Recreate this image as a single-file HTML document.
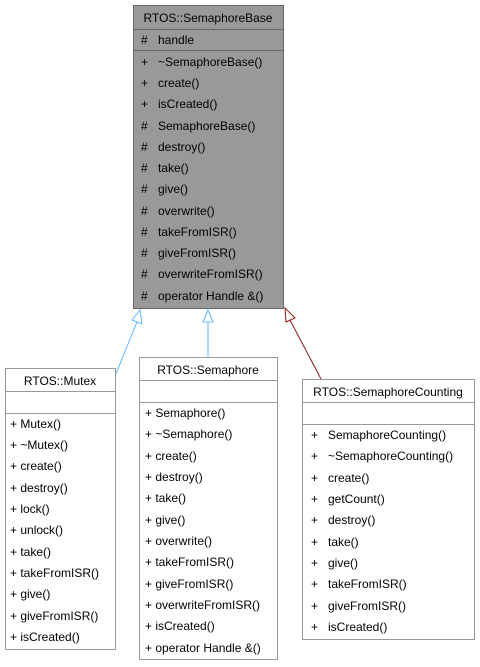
<!DOCTYPE html>
<html><head><meta charset="utf-8"><style>
html,body{margin:0;padding:0;background:#fff;width:480px;height:667px;overflow:hidden}
text{font-family:"Liberation Sans",sans-serif;font-size:12px;fill:#000}
</style></head><body>
<svg width="480" height="667" viewBox="0 0 480 667" xmlns="http://www.w3.org/2000/svg">
<line x1="115" y1="376" x2="137" y2="322" stroke="#63b8ff" stroke-width="1"/>
<polygon points="140,310 132,320 142,324" fill="#fff" stroke="#63b8ff"/>
<line x1="208" y1="357" x2="208" y2="322" stroke="#63b8ff"/>
<polygon points="208,310 203,322 213,322" fill="#fff" stroke="#63b8ff"/>
<line x1="321" y1="379" x2="290" y2="320" stroke="#8b1a1a"/>
<polygon points="285,308 286,322 295,318" fill="#fff" stroke="#8b1a1a"/>

<rect x="133.5" y="5.5" width="150" height="303" fill="#999" stroke="#666"/>
<line x1="133.5" y1="29.5" x2="283.5" y2="29.5" stroke="#666"/>
<line x1="133.5" y1="50.5" x2="283.5" y2="50.5" stroke="#666"/>
<text x="208" y="22" text-anchor="middle">RTOS::SemaphoreBase</text>
<text x="141" y="44">#</text><text x="158" y="44">handle</text>
<text x="141" y="66">+</text><text x="158" y="66">~SemaphoreBase()</text>
<text x="141" y="87">+</text><text x="158" y="87">create()</text>
<text x="141" y="108">+</text><text x="158" y="108">isCreated()</text>
<text x="141" y="130">#</text><text x="158" y="130">SemaphoreBase()</text>
<text x="141" y="151">#</text><text x="158" y="151">destroy()</text>
<text x="141" y="172">#</text><text x="158" y="172">take()</text>
<text x="141" y="193">#</text><text x="158" y="193">give()</text>
<text x="141" y="215">#</text><text x="158" y="215">overwrite()</text>
<text x="141" y="236">#</text><text x="158" y="236">takeFromISR()</text>
<text x="141" y="257">#</text><text x="158" y="257">giveFromISR()</text>
<text x="141" y="278">#</text><text x="158" y="278">overwriteFromISR()</text>
<text x="141" y="300">#</text><text x="158" y="300">operator Handle &amp;()</text>

<rect x="5.5" y="368.5" width="110" height="281" fill="#fff" stroke="#999"/>
<line x1="5.5" y1="391.5" x2="115.5" y2="391.5" stroke="#999"/>
<line x1="5.5" y1="413.5" x2="115.5" y2="413.5" stroke="#999"/>
<text x="60" y="385" text-anchor="middle">RTOS::Mutex</text>
<text x="10" y="428">+ Mutex()</text>
<text x="10" y="449">+ ~Mutex()</text>
<text x="10" y="470">+ create()</text>
<text x="10" y="492">+ destroy()</text>
<text x="10" y="513">+ lock()</text>
<text x="10" y="534">+ unlock()</text>
<text x="10" y="556">+ take()</text>
<text x="10" y="577">+ takeFromISR()</text>
<text x="10" y="598">+ give()</text>
<text x="10" y="620">+ giveFromISR()</text>
<text x="10" y="641">+ isCreated()</text>

<rect x="139.5" y="357.5" width="138" height="302" fill="#fff" stroke="#999"/>
<line x1="139.5" y1="380.5" x2="277.5" y2="380.5" stroke="#999"/>
<line x1="139.5" y1="402.5" x2="277.5" y2="402.5" stroke="#999"/>
<text x="208" y="374" text-anchor="middle">RTOS::Semaphore</text>
<text x="145" y="417">+ Semaphore()</text>
<text x="145" y="438">+ ~Semaphore()</text>
<text x="145" y="460">+ create()</text>
<text x="145" y="481">+ destroy()</text>
<text x="145" y="502">+ take()</text>
<text x="145" y="524">+ give()</text>
<text x="145" y="545">+ overwrite()</text>
<text x="145" y="566">+ takeFromISR()</text>
<text x="145" y="588">+ giveFromISR()</text>
<text x="145" y="609">+ overwriteFromISR()</text>
<text x="145" y="630">+ isCreated()</text>
<text x="145" y="652">+ operator Handle &amp;()</text>

<rect x="302.5" y="379.5" width="172" height="260" fill="#fff" stroke="#999"/>
<line x1="302.5" y1="402.5" x2="474.5" y2="402.5" stroke="#999"/>
<line x1="302.5" y1="424.5" x2="474.5" y2="424.5" stroke="#999"/>
<text x="388" y="396" text-anchor="middle">RTOS::SemaphoreCounting</text>
<text x="311" y="439">+</text><text x="328" y="439">SemaphoreCounting()</text>
<text x="311" y="460">+</text><text x="328" y="460">~SemaphoreCounting()</text>
<text x="311" y="482">+</text><text x="328" y="482">create()</text>
<text x="311" y="503">+</text><text x="328" y="503">getCount()</text>
<text x="311" y="524">+</text><text x="328" y="524">destroy()</text>
<text x="311" y="546">+</text><text x="328" y="546">take()</text>
<text x="311" y="567">+</text><text x="328" y="567">give()</text>
<text x="311" y="588">+</text><text x="328" y="588">takeFromISR()</text>
<text x="311" y="610">+</text><text x="328" y="610">giveFromISR()</text>
<text x="311" y="631">+</text><text x="328" y="631">isCreated()</text>
</svg>
</body></html>
